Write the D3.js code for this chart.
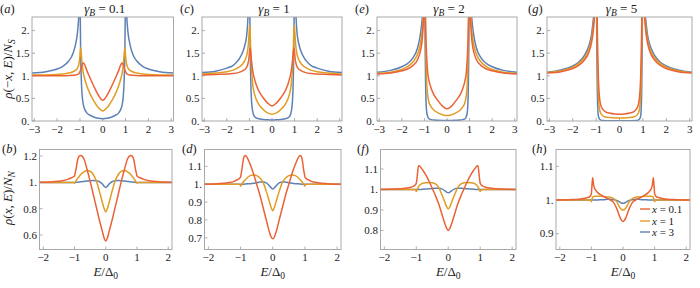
<!DOCTYPE html>
<html>
<head>
<meta charset="utf-8">
<script src="https://cdn.jsdelivr.net/npm/d3@7"></script>
<style>
  body { margin: 0; background: #fff; }
  svg text { font-family: 'Liberation Serif', serif; fill: #1a1a1a; }
</style>
</head>
<body>
<svg id="chart" width="700" height="288"></svg>
<script>
// energy grids, E >= 0 only (every curve is even in E, the left half is its mirror)
const E_top = [0, 0.2, 0.4, 0.6, 0.7, 0.8, 0.85, 0.9, 0.93, 0.95, 0.97, 0.99, 1.0, 1.01, 1.03, 1.05, 1.08, 1.12, 1.2, 1.3, 1.5, 1.75, 2, 2.5, 3.1];
const E_bot = [0, 0.05, 0.1, 0.2, 0.3, 0.4, 0.5, 0.6, 0.7, 0.8, 0.85, 0.9, 0.93, 0.96, 0.98, 1.0, 1.02, 1.05, 1.1, 1.2, 1.4, 1.7, 2.2];

const gammaB = ['0.1', '1', '2', '5'];
const xValues = ['0.1', '1', '3'];
const colors = ['#eb6235', '#e19c24', '#5e81b5'];   // x = 0.1, 1, 3

// top row, rho(-x,E)/N_S
const a_red    = [0.46, 0.58, 0.78, 1.0, 1.12, 1.25, 1.28, 1.25, 1.2, 1.16, 1.13, 1.1, 1.09, 1.08, 1.06, 1.045, 1.035, 1.025, 1.015, 1.01, 1.005, 1.0, 1.0, 1.0, 1.0];
const a_orange = [0.22, 0.3, 0.45, 0.65, 0.78, 0.95, 1.06, 1.25, 1.42, 1.55, 1.62, 1.52, 1.44, 1.38, 1.3, 1.25, 1.2, 1.16, 1.12, 1.09, 1.06, 1.04, 1.03, 1.02, 1.02];
const a_blue   = [0.05, 0.06, 0.09, 0.14, 0.18, 0.27, 0.36, 0.55, 0.8, 1.1, 1.6, 2.6, 3.2, 3.3, 2.7, 2.35, 2.1, 1.9, 1.68, 1.5, 1.32, 1.21, 1.15, 1.09, 1.06];

const c_red    = [0.33, 0.4, 0.52, 0.68, 0.8, 0.98, 1.1, 1.3, 1.45, 1.55, 1.62, 1.56, 1.5, 1.45, 1.36, 1.3, 1.24, 1.19, 1.14, 1.11, 1.07, 1.05, 1.04, 1.03, 1.02];
const c_orange = [0.15, 0.18, 0.26, 0.38, 0.48, 0.65, 0.8, 1.1, 1.4, 1.7, 2.0, 2.12, 2.05, 1.97, 1.82, 1.68, 1.55, 1.45, 1.34, 1.26, 1.18, 1.12, 1.09, 1.06, 1.04];
const c_blue   = [0.02, 0.025, 0.035, 0.05, 0.07, 0.12, 0.2, 0.4, 0.7, 1.1, 1.8, 3.0, 3.5, 3.5, 2.9, 2.5, 2.15, 1.9, 1.68, 1.52, 1.34, 1.22, 1.17, 1.1, 1.07];

const e_red    = [0.27, 0.33, 0.45, 0.6, 0.72, 0.9, 1.05, 1.4, 1.8, 2.2, 2.6, 2.8, 2.7, 2.6, 2.35, 2.15, 1.9, 1.7, 1.5, 1.36, 1.23, 1.15, 1.11, 1.06, 1.04];
const e_orange = [0.12, 0.14, 0.18, 0.25, 0.31, 0.42, 0.55, 0.85, 1.3, 1.9, 2.8, 3.5, 3.5, 3.3, 2.8, 2.45, 2.1, 1.9, 1.65, 1.48, 1.31, 1.2, 1.14, 1.08, 1.05];
const e_blue   = [0.01, 0.012, 0.015, 0.02, 0.03, 0.05, 0.09, 0.2, 0.45, 0.9, 1.8, 3.2, 3.8, 3.8, 3.2, 2.75, 2.4, 2.15, 1.85, 1.62, 1.4, 1.27, 1.2, 1.12, 1.08];

const g_red    = [0.15, 0.155, 0.17, 0.2, 0.25, 0.35, 0.5, 0.9, 1.5, 2.1, 2.9, 3.6, 3.8, 3.6, 3.1, 2.65, 2.25, 2.0, 1.72, 1.53, 1.35, 1.23, 1.16, 1.09, 1.06];
const g_orange = [0.065, 0.068, 0.075, 0.09, 0.11, 0.17, 0.25, 0.5, 0.9, 1.5, 2.6, 3.6, 4.0, 3.8, 3.3, 2.8, 2.35, 2.1, 1.8, 1.6, 1.4, 1.27, 1.19, 1.11, 1.07];
const g_blue   = [0.003, 0.003, 0.004, 0.006, 0.01, 0.02, 0.04, 0.1, 0.3, 0.7, 1.6, 3.2, 4.0, 4.0, 3.4, 2.9, 2.45, 2.25, 1.9, 1.68, 1.45, 1.3, 1.22, 1.13, 1.08];

// bottom row, rho(x,E)/N_N
const b_red    = [0.555, 0.575, 0.62, 0.71, 0.81, 0.91, 1.01, 1.1, 1.18, 1.205, 1.2, 1.17, 1.13, 1.09, 1.07, 1.05, 1.045, 1.04, 1.035, 1.025, 1.012, 1.005, 1.0];
const b_orange = [0.775, 0.8, 0.84, 0.93, 1.01, 1.06, 1.085, 1.09, 1.08, 1.06, 1.045, 1.03, 1.02, 1.008, 1.0, 0.995, 0.998, 1.0, 1.0, 1.0, 1.0, 1.0, 1.0];
const b_blue   = [0.962, 0.97, 0.985, 1.005, 1.012, 1.014, 1.013, 1.01, 1.007, 1.004, 1.003, 1.002, 1.001, 1.0, 1.0, 1.0, 1.0, 1.0, 1.0, 1.0, 1.0, 1.0, 1.0];

const d_red    = [0.695, 0.705, 0.73, 0.8, 0.87, 0.94, 1.0, 1.06, 1.11, 1.15, 1.16, 1.15, 1.12, 1.08, 1.06, 1.04, 1.035, 1.03, 1.025, 1.016, 1.008, 1.003, 1.0];
const d_orange = [0.852, 0.87, 0.9, 0.96, 1.01, 1.035, 1.048, 1.052, 1.048, 1.035, 1.025, 1.015, 1.008, 1.0, 0.994, 0.99, 0.997, 1.0, 1.0, 1.0, 1.0, 1.0, 1.0];
const d_blue   = [0.973, 0.98, 0.99, 1.007, 1.012, 1.012, 1.008, 1.005, 1.003, 1.002, 1.001, 1.0, 1.0, 1.0, 1.0, 1.0, 1.0, 1.0, 1.0, 1.0, 1.0, 1.0, 1.0];

const f_red    = [0.8, 0.81, 0.83, 0.88, 0.93, 0.97, 1.005, 1.04, 1.07, 1.095, 1.105, 1.115, 1.116, 1.08, 1.05, 1.03, 1.025, 1.02, 1.015, 1.01, 1.005, 1.002, 1.0];
const f_orange = [0.905, 0.915, 0.935, 0.975, 1.01, 1.027, 1.033, 1.034, 1.033, 1.03, 1.026, 1.02, 1.013, 1.004, 0.996, 0.99, 0.997, 1.0, 1.0, 1.0, 1.0, 1.0, 1.0];
const f_blue   = [0.984, 0.987, 0.993, 1.003, 1.006, 1.006, 1.005, 1.003, 1.002, 1.001, 1.0, 1.0, 1.0, 1.0, 1.0, 1.0, 1.0, 1.0, 1.0, 1.0, 1.0, 1.0, 1.0];

const h_red    = [0.936, 0.94, 0.95, 0.975, 0.993, 1.0, 1.005, 1.01, 1.015, 1.022, 1.027, 1.035, 1.045, 1.066, 1.045, 1.02, 1.014, 1.01, 1.008, 1.005, 1.002, 1.001, 1.0];
const h_orange = [0.97, 0.972, 0.978, 0.995, 1.005, 1.008, 1.009, 1.01, 1.011, 1.011, 1.011, 1.011, 1.01, 1.008, 1.003, 0.995, 0.999, 1.0, 1.0, 1.0, 1.0, 1.0, 1.0];
const h_blue   = [0.99, 0.991, 0.994, 0.999, 1.001, 1.002, 1.002, 1.001, 1.001, 1.0, 1.0, 1.0, 1.0, 1.0, 1.0, 1.0, 1.0, 1.0, 1.0, 1.0, 1.0, 1.0, 1.0];

// tick values
const xTicksTop = [-3, -2, -1, 0, 1, 2, 3];
const xTicksBot = [-2, -1, 0, 1, 2];
const yTicksTop = [0, 0.5, 1, 1.5, 2];
const yTicks_b = [0.6, 0.8, 1, 1.2];
const yTicks_d = [0.7, 0.8, 0.9, 1, 1.1];
const yTicks_f = [0.8, 0.9, 1, 1.1];
const yTicks_h = [0.9, 1, 1.1];

const panels = [
  { id: 'a', row: 0, col: 0, x0: 32,    x1: 173.5, E: E_top, ys: [a_red, a_orange, a_blue], ydom: [0, 2.3], yt: yTicksTop },
  { id: 'c', row: 0, col: 1, x0: 202,   x1: 342,   E: E_top, ys: [c_red, c_orange, c_blue], ydom: [0, 2.3], yt: yTicksTop },
  { id: 'e', row: 0, col: 2, x0: 377,   x1: 517,   E: E_top, ys: [e_red, e_orange, e_blue], ydom: [0, 2.3], yt: yTicksTop },
  { id: 'g', row: 0, col: 3, x0: 547,   x1: 692,   E: E_top, ys: [g_red, g_orange, g_blue], ydom: [0, 2.3], yt: yTicksTop },
  { id: 'b', row: 1, col: 0, x0: 39.5,  x1: 172,   E: E_bot, ys: [b_red, b_orange, b_blue], ydom: [0.49, 1.25], yt: yTicks_b },
  { id: 'd', row: 1, col: 1, x0: 204.5, x1: 341,   E: E_bot, ys: [d_red, d_orange, d_blue], ydom: [0.635, 1.194], yt: yTicks_d },
  { id: 'f', row: 1, col: 2, x0: 380.5, x1: 516,   E: E_bot, ys: [f_red, f_orange, f_blue], ydom: [0.707, 1.195], yt: yTicks_f },
  { id: 'h', row: 1, col: 3, x0: 556,   x1: 690,   E: E_bot, ys: [h_red, h_orange, h_blue], ydom: [0.853, 1.15], yt: yTicks_h }
];

const rowY = [{ y0: 17, y1: 121 }, { y0: 149.5, y1: 249.5 }];
const letterPos = { a: [0, 13], c: [180, 13], e: [355, 13], g: [528, 13], b: [2, 153], d: [182, 153], f: [357, 153], h: [532, 153] };

const svg = d3.select('#chart');

function mirror(E, v) {
  const left = E.slice(1).map((e, i) => [-e, v[i + 1]]).reverse();
  return left.concat(E.map((e, i) => [e, v[i]]));
}

function fmtY(v) {
  const s = d3.format('.1f')(v);
  return s.endsWith('.0') ? s.slice(0, -1) : s;
}
function fmtX(v) {
  return v < 0 ? '\u2212' + Math.abs(v) : String(v);
}

panels.forEach(p => {
  const r = rowY[p.row];
  const xdom = p.row === 0 ? [-3.1, 3.1] : [-2.12, 2.12];
  const x = d3.scaleLinear().domain(xdom).range([p.x0, p.x1]);
  const y = d3.scaleLinear().domain(p.ydom).range([r.y1, r.y0]);
  const g = svg.append('g');

  g.append('clipPath').attr('id', 'clip-' + p.id)
    .append('rect').attr('x', p.x0).attr('y', r.y0).attr('width', p.x1 - p.x0).attr('height', r.y1 - r.y0);

  // ticks, inward
  const xt = p.row === 0 ? xTicksTop : xTicksBot;
  g.selectAll('.xt').data(xt).enter().append('line')
    .attr('x1', d => x(d)).attr('x2', d => x(d))
    .attr('y1', r.y1).attr('y2', r.y1 - 3)
    .attr('stroke', '#9a9a9a').attr('stroke-width', 0.8);
  g.selectAll('.yt').data(p.yt).enter().append('line')
    .attr('x1', p.x0).attr('x2', p.x0 + 3)
    .attr('y1', d => y(d)).attr('y2', d => y(d))
    .attr('stroke', '#9a9a9a').attr('stroke-width', 0.8);

  g.selectAll('.xl').data(xt).enter().append('text')
    .attr('x', d => x(d)).attr('y', r.y1 + 11.5)
    .attr('text-anchor', 'middle').attr('font-size', 11)
    .text(fmtX);
  g.selectAll('.yl').data(p.yt).enter().append('text')
    .attr('x', p.x0 - 2.5).attr('y', d => y(d) + 3.8)
    .attr('text-anchor', 'end').attr('font-size', 11)
    .text(fmtY);

  // curves, blue first so red ends on top
  const line = d3.line().x(d => x(d[0])).y(d => y(d[1])).curve(d3.curveMonotoneX);
  const order = [2, 1, 0];
  g.append('g').attr('clip-path', 'url(#clip-' + p.id + ')')
    .selectAll('path').data(order).enter().append('path')
    .attr('d', k => line(mirror(p.E, p.ys[k])))
    .attr('fill', 'none').attr('stroke', k => colors[k])
    .attr('stroke-width', 1.5).attr('stroke-linejoin', 'round');

  g.append('rect')
    .attr('x', p.x0).attr('y', r.y0).attr('width', p.x1 - p.x0).attr('height', r.y1 - r.y0)
    .attr('fill', 'none').attr('stroke', '#a0a0a0').attr('stroke-width', 0.9);

  const lp = letterPos[p.id];
  svg.append('text').attr('x', lp[0]).attr('y', lp[1]).attr('font-size', 12.5)
    .html('(<tspan font-style="italic">' + p.id + '</tspan>)');

  const cx = (p.x0 + p.x1) / 2;
  if (p.row === 0) {
    svg.append('text').attr('x', cx + 2).attr('y', 13).attr('text-anchor', 'middle').attr('font-size', 13)
      .html('<tspan font-style="italic">\u03b3</tspan><tspan font-style="italic" font-size="9.5" dy="3">B</tspan><tspan dy="-3"> = ' + gammaB[p.col] + '</tspan>');
  } else {
    svg.append('text').attr('x', cx).attr('y', 276).attr('text-anchor', 'middle').attr('font-size', 13)
      .html('<tspan font-style="italic">E</tspan>/\u0394<tspan font-size="9.5" dy="3">0</tspan>');
  }
});

// y axis labels
svg.append('text').attr('transform', 'translate(12,69) rotate(-90)').attr('text-anchor', 'middle').attr('font-size', 13)
  .html('<tspan font-style="italic">\u03c1</tspan>(\u2212<tspan font-style="italic">x</tspan>, <tspan font-style="italic">E</tspan>)/<tspan font-style="italic">N</tspan><tspan font-style="italic" font-size="9.5" dy="3">S</tspan>');
svg.append('text').attr('transform', 'translate(12,198) rotate(-90)').attr('text-anchor', 'middle').attr('font-size', 13)
  .html('<tspan font-style="italic">\u03c1</tspan>(<tspan font-style="italic">x</tspan>, <tspan font-style="italic">E</tspan>)/<tspan font-style="italic">N</tspan><tspan font-style="italic" font-size="9.5" dy="3">N</tspan>');

// legend in panel (h)
const legendY = [209, 221, 232];
const lg = svg.append('g');
lg.selectAll('line').data(xValues).enter().append('line')
  .attr('x1', 640).attr('x2', 650)
  .attr('y1', (d, i) => legendY[i]).attr('y2', (d, i) => legendY[i])
  .attr('stroke', (d, i) => colors[i]).attr('stroke-width', 1.4);
lg.selectAll('text').data(xValues).enter().append('text')
  .attr('x', 652).attr('y', (d, i) => legendY[i] + 3.5).attr('font-size', 11)
  .html(d => '<tspan font-style="italic">x</tspan> = ' + d);
</script>
</body>
</html>
